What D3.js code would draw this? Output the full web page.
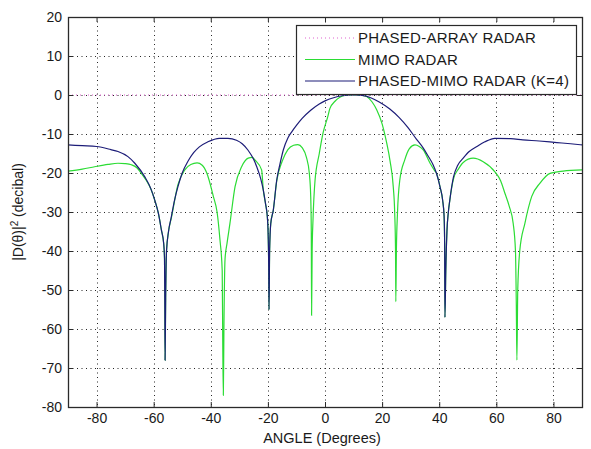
<!DOCTYPE html>
<html>
<head>
<meta charset="utf-8">
<script src="https://cdn.jsdelivr.net/npm/d3@7"></script>
<style>
  body { margin: 0; background: #fff; }
  svg { display: block; font-family: "Liberation Sans", Arial, sans-serif; }
</style>
</head>
<body>
<div id="chart"></div>
<script>
// tick values
const xTicks = [-80, -60, -40, -20, 0, 20, 40, 60, 80];
const yTicks = [20, 10, 0, -10, -20, -30, -40, -50, -60, -70, -80];

// phased-array radar (flat at 0 dB in the picture)
const phasedAngle = [-90, 90];
const phasedDb = [0, 0];

// MIMO radar
const mimoAngle = [-90, -85, -80.7, -76, -72.5, -70, -67.8, -66, -64.3, -62.5, -60.8, -59.6, -58.3, -57.3, -56.5, -56.2, -56.1, -56.0, -55.8, -55.5, -54.8, -53.8, -51.5, -49.1, -47, -44.8, -43, -41.4, -39.1, -37.8, -36.8, -36, -35.8, -35.6, -35.4, -35, -34.3, -33.3, -31.5, -29.2, -26.9, -25.5, -24.5, -22.2, -21.6, -20.8, -20.2, -19.9, -19.7, -19.6, -19.4, -19, -18.1, -16.9, -15, -13, -11, -9.5, -8, -6.5, -5.5, -5, -4.8, -4.7, -4.5, -4.2, -3.5, -2, -0.7, 1, 1.7, 3.5, 5.2, 7, 9, 11, 13, 14.6, 16.5, 18.1, 20, 21.6, 22.8, 23.9, 24.4, 24.7, 24.8, 25.0, 25.4, 26.2, 27.9, 29.5, 31.5, 33, 34.4, 36.8, 38.5, 39, 40.3, 41.2, 41.7, 41.9, 42.0, 42.3, 42.7, 43.2, 43.7, 45, 46.7, 48.4, 51.9, 55.4, 59.5, 61.5, 63, 64.5, 65.9, 66.7, 67, 67.2, 67.5, 68.2, 70, 72.4, 75.3, 78.8, 83.4, 90];
const mimoDb = [-19.5, -19, -18.4, -17.8, -17.5, -17.6, -17.9, -18.6, -20.1, -22, -24.4, -27, -30.5, -34.6, -38, -42, -52, -68, -52, -40, -35, -31.5, -23, -19.2, -17.8, -17.4, -18, -20, -26, -30, -37, -45, -64, -77, -60, -42, -38, -33, -23.5, -18.4, -16.2, -16, -16.7, -19.2, -24.4, -28, -31.2, -36, -45, -55, -40, -33, -29.5, -22, -17, -14, -12.9, -12.7, -13.5, -16, -20, -26, -35, -56.5, -40, -32, -22, -15, -9.8, -5.5, -3.5, -1.6, -0.6, -0.1, 0, 0, -0.1, -0.4, -1.8, -3.8, -7.4, -12.3, -17, -23.5, -30, -40, -53, -40, -30, -21.8, -16.7, -13.8, -12.8, -13.2, -14.1, -17.5, -19.5, -20, -23.6, -27, -31, -38, -57, -45, -35, -30, -27, -21.5, -19, -17.3, -16.2, -17.1, -19.7, -22, -25.2, -28.5, -32.9, -40, -54, -68, -50, -40, -32.9, -26, -22.6, -20.1, -19.5, -19.2];

// phased-MIMO radar (K=4)
const pmAngle = [-90, -85, -80, -75, -72.5, -69, -66.6, -63.1, -61, -59.6, -58.3, -57.3, -56.5, -56.2, -56.1, -56.0, -55.8, -55.5, -54.8, -53.8, -52.7, -51.5, -50, -48, -46, -44, -41, -37, -34, -31, -29, -27, -25, -23.9, -22.5, -21.6, -20.8, -20.2, -19.9, -19.7, -19.6, -19.4, -19, -18.1, -16.9, -15.8, -14.6, -13, -11.7, -10, -8, -5, -2, 0, 3, 6, 9, 11, 13, 16, 19, 22.7, 26, 29, 32, 34.3, 36, 37.8, 39, 40.3, 41.2, 41.7, 41.9, 42.0, 42.3, 42.7, 43.2, 43.7, 45, 46.5, 48.4, 50.5, 53.2, 56, 59.5, 65, 69.3, 75, 81.2, 86, 90];
const pmDb = [-12.8, -13, -13.2, -14, -14.5, -15.8, -17.5, -21, -24, -27, -30.5, -34.6, -38, -42, -52, -68, -52, -40, -35, -31.2, -27, -23.5, -20, -17, -14.8, -13.3, -12, -11.1, -11.1, -11.6, -12.5, -14.1, -16.5, -18.4, -21.5, -24.4, -28, -31.2, -36, -45, -55, -40, -33, -29.5, -21.8, -17.8, -14.1, -11, -9.5, -7.8, -6, -3.9, -2.3, -1.5, -0.7, -0.2, 0, 0, -0.1, -0.7, -1.8, -3.6, -5.8, -8.3, -11.3, -13.5, -15.5, -17.8, -20, -23.6, -27, -31, -38, -57, -45, -35, -30, -27, -21, -18, -16.2, -14.5, -13.2, -12, -11.1, -11.2, -11.5, -11.8, -12.2, -12.5, -12.8];

const legendLabels = ["PHASED-ARRAY RADAR", "MIMO RADAR", "PHASED-MIMO RADAR (K=4)"];

const width = 591, height = 449;
const margin = {left: 68, right: 9, top: 17, bottom: 42};

const svg = d3.select("#chart").append("svg")
    .attr("width", width)
    .attr("height", height);

const x = d3.scaleLinear().domain([-90, 90]).range([margin.left, width - margin.right]);
const y = d3.scaleLinear().domain([-80, 20]).range([height - margin.bottom, margin.top]);

const x0 = x.range()[0], x1 = x.range()[1];
const y0 = y.range()[0], y1 = y.range()[1];

// grid
const grid = svg.append("g").attr("class", "grid")
    .attr("stroke", "#000").attr("stroke-width", 1)
    .attr("stroke-dasharray", "1,3.5").attr("opacity", 0.85);
grid.selectAll("line.v").data(xTicks).enter().append("line")
    .attr("x1", d => Math.round(x(d)) + 0.5).attr("x2", d => Math.round(x(d)) + 0.5)
    .attr("y1", y1).attr("y2", y0);
grid.selectAll("line.h").data(yTicks.filter(d => d !== 20 && d !== -80)).enter().append("line")
    .attr("x1", x0).attr("x2", x1)
    .attr("y1", d => Math.round(y(d)) + 0.5).attr("y2", d => Math.round(y(d)) + 0.5);

// series
function pts(a, v){ return a.map((d, i) => [d, v[i]]); }
const line = d3.line().x(d => x(d[0])).y(d => y(d[1])).curve(d3.curveMonotoneX);

svg.append("path").datum(pts(mimoAngle, mimoDb))
    .attr("fill", "none").attr("stroke", "#2bdc34").attr("stroke-width", 1.2)
    .attr("d", line);
svg.append("path").datum(pts(pmAngle, pmDb))
    .attr("fill", "none").attr("stroke", "#1c1c78").attr("stroke-width", 1.2)
    .attr("d", line);
svg.append("path").datum(pts(phasedAngle, phasedDb))
    .attr("fill", "none").attr("stroke", "#e060d0").attr("stroke-width", 1)
    .attr("stroke-dasharray", "1,3")
    .attr("d", line);

// axes (MATLAB style: ticks inside, on all four sides)
const tickLen = 5;
const axisColor = "#2a2a2a";
const fmt = d => String(d);
svg.append("g").attr("transform", `translate(0,${y0})`)
    .call(d3.axisBottom(x).tickValues(xTicks).tickSize(-tickLen).tickPadding(6).tickFormat(fmt))
    .call(g => g.select(".domain").remove());
svg.append("g").attr("transform", `translate(0,${y1})`)
    .call(d3.axisTop(x).tickValues(xTicks).tickSize(-tickLen).tickFormat(""))
    .call(g => g.select(".domain").remove());
svg.append("g").attr("transform", `translate(${x0},0)`)
    .call(d3.axisLeft(y).tickValues(yTicks).tickSize(-tickLen).tickPadding(6).tickFormat(fmt))
    .call(g => g.select(".domain").remove());
svg.append("g").attr("transform", `translate(${x1},0)`)
    .call(d3.axisRight(y).tickValues(yTicks).tickSize(-tickLen).tickFormat(""))
    .call(g => g.select(".domain").remove());

svg.selectAll(".tick line").attr("stroke", axisColor);
svg.selectAll(".tick text")
    .attr("fill", "#1a1a1a")
    .attr("font-size", "14px")
    .attr("font-family", "Liberation Sans, Arial, sans-serif");

svg.append("rect")
    .attr("x", x0 + 0.5).attr("y", y1 + 0.5)
    .attr("width", x1 - x0).attr("height", y0 - y1)
    .attr("fill", "none").attr("stroke", axisColor).attr("stroke-width", 1.3);

// axis labels
svg.append("text")
    .attr("x", 322).attr("y", 443)
    .attr("text-anchor", "middle").attr("font-size", "14.5px").attr("fill", "#1a1a1a")
    .text("ANGLE (Degrees)");

const yl = svg.append("text")
    .attr("transform", `translate(23,${(y0 + y1) / 2}) rotate(-90)`)
    .attr("text-anchor", "middle").attr("font-size", "14px").attr("fill", "#1a1a1a");
yl.append("tspan").text("|D(θ)|");
yl.append("tspan").attr("font-size", "10px").attr("dy", "-5").text("2");
yl.append("tspan").attr("dy", "5").text(" (decibal)");

// legend
const leg = svg.append("g");
leg.append("rect")
    .attr("x", 296.5).attr("y", 25.5).attr("width", 280).attr("height", 69)
    .attr("fill", "#fff").attr("stroke", axisColor).attr("stroke-width", 1.2);
const legStyles = [
    {color: "#e060d0", dash: "1,3", w: 1},
    {color: "#2bdc34", dash: null, w: 1.2},
    {color: "#1c1c78", dash: null, w: 1.2}
];
legendLabels.forEach((lab, i) => {
    const cy = 38 + i * 21.5;
    leg.append("line")
        .attr("x1", 305).attr("x2", 355).attr("y1", cy).attr("y2", cy)
        .attr("stroke", legStyles[i].color).attr("stroke-width", legStyles[i].w)
        .attr("stroke-dasharray", legStyles[i].dash);
    leg.append("text")
        .attr("x", 358).attr("y", cy + 5)
        .attr("font-size", "15px").attr("letter-spacing", "0.25px").attr("fill", "#1a1a1a")
        .text(lab);
});
</script>
</body>
</html>
